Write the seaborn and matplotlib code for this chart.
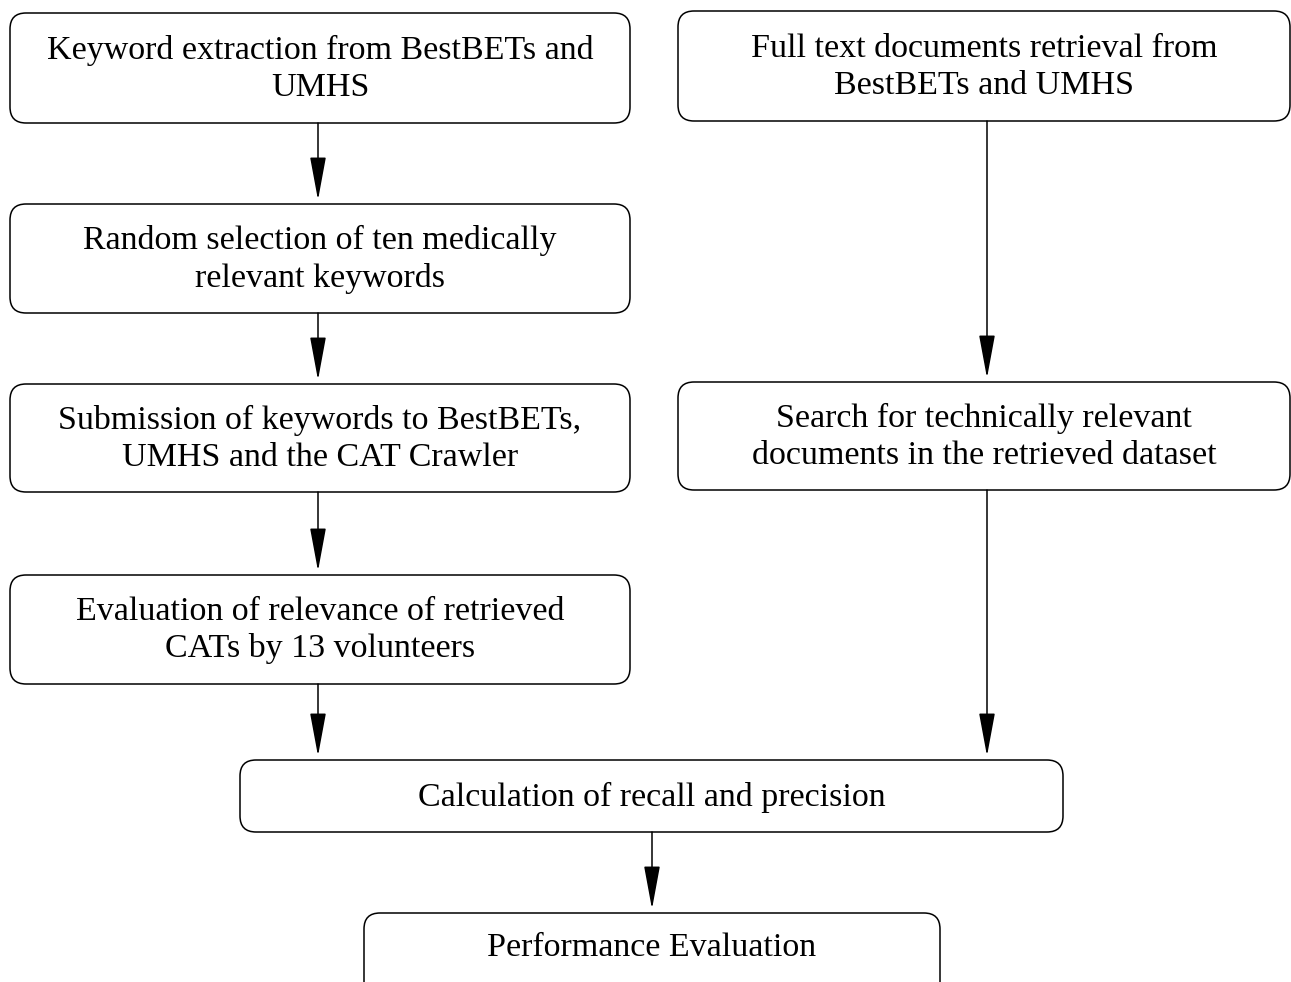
# Flowchart: CAT Crawler evaluation steps
import matplotlib
matplotlib.use("Agg")
import matplotlib.pyplot as plt
from matplotlib.patches import FancyBboxPatch
import seaborn as sns

# Step texts
labels = [
    "Keyword extraction from BestBETs and\nUMHS",
    "Full text documents retrieval from\nBestBETs and UMHS",
    "Random selection of ten medically\nrelevant keywords",
    "Submission of keywords to BestBETs,\nUMHS and the CAT Crawler",
    "Search for technically relevant\ndocuments in the retrieved dataset",
    "Evaluation of relevance of retrieved\nCATs by 13 volunteers",
    "Calculation of recall and precision",
    "Performance Evaluation",
]
# links between steps (from, to)
edges = [(0, 2), (2, 3), (3, 5), (5, 6), (1, 4), (4, 6), (6, 7)]

# layout in pixels: left, top, right, bottom
box_pos = [
    (10, 13, 630, 123),
    (678, 11, 1290, 121),
    (10, 204, 630, 313),
    (10, 384, 630, 492),
    (678, 382, 1290, 490),
    (10, 575, 630, 684),
    (240, 760, 1063, 832),
    (364, 913, 940, 1010),
]
# x of each arrow
arrow_x = [318, 318, 318, 318, 987, 987, 652]

sns.set_style("white")
plt.rcParams['font.family'] = ['Liberation Serif', 'DejaVu Serif']

fig = plt.figure(figsize=(12.91, 9.82), dpi=100)
ax = fig.add_axes([0, 0, 1, 1])
ax.set_xlim(0, 1291)
ax.set_ylim(982, 0)
ax.axis('off')

for text, (l, t, r, b) in zip(labels, box_pos):
    ax.add_patch(FancyBboxPatch((l, t), r - l, b - t,
                                boxstyle="round,pad=0,rounding_size=16",
                                fc="white", ec="black", lw=1.1))
    yc = (t + b) / 2 + 1 if b <= 982 else t + 35
    ax.text((l + r) / 2, yc, text, ha="center", va="center",
            fontsize=24.5, linespacing=1.27, color="black")

for (a, z), x in zip(edges, arrow_x):
    y0 = box_pos[a][3]
    y1 = box_pos[z][1] - 4
    ax.annotate("", xy=(x, y1), xytext=(x, y0),
                arrowprops=dict(arrowstyle="-|>,head_length=2.7,head_width=0.5",
                                mutation_scale=10, fc="black", ec="black",
                                lw=1.1, shrinkA=0, shrinkB=0))

fig.savefig("out.png", dpi=100, facecolor="white")
